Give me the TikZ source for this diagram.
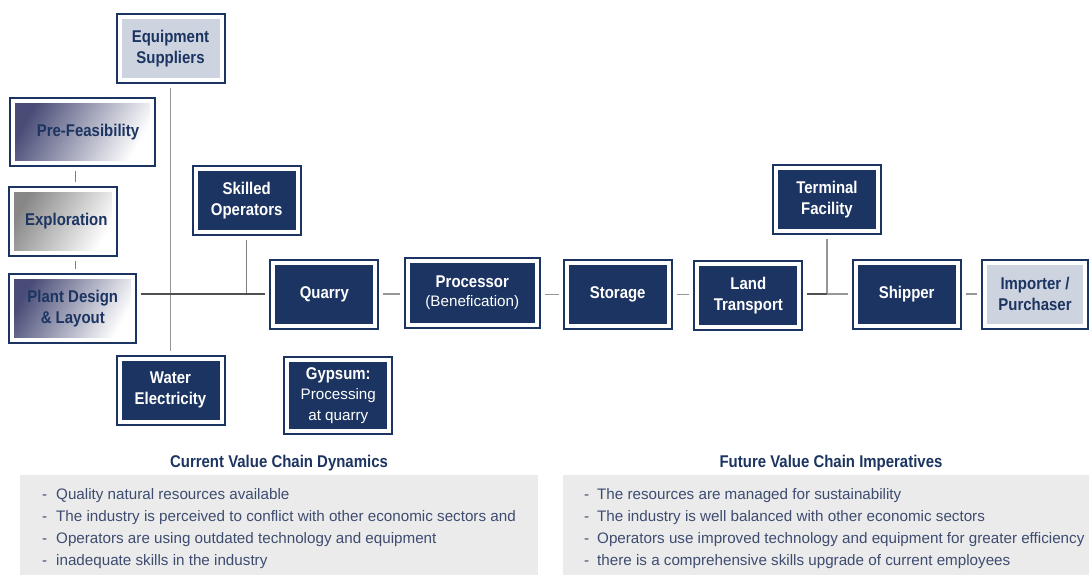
\documentclass[tikz,border=0pt]{standalone}
\usepackage{fontspec}
\setmainfont{Liberation Sans}
\newfontfamily\condfont{Liberation Sans}[FakeStretch=0.88]
\usetikzlibrary{positioning,calc}
\definecolor{navy}{RGB}{28,52,97}
\definecolor{fadenavy}{RGB}{72,76,118}
\definecolor{fadegray}{RGB}{135,135,135}
\definecolor{paleblue}{RGB}{205,211,223}
\definecolor{panelgray}{RGB}{235,235,235}
\definecolor{bodyblue}{RGB}{62,76,112}
\definecolor{linkgray}{RGB}{150,150,150}
\definecolor{trunkgray}{RGB}{80,80,80}
\newcommand\plaintext[1]{{\normalfont\fontsize{15.2}{19}\selectfont #1}}
\tikzset{
  box/.style={rectangle,inner sep=0pt,outer sep=4pt,align=center,
    minimum width=102pt,minimum height=63pt,
    font=\condfont\bfseries\fontsize{17}{21}\selectfont,
    draw=white,line width=4pt,preaction={draw=navy,line width=8pt}},
  darkbox/.style={box,fill=navy,text=white},
  palebox/.style={box,fill=paleblue,text=navy},
  fadebox/.style={box,text=navy,left color=#1,right color=white,shading angle=60},
  link/.style={draw=linkgray,line width=1.5pt,shorten <=4pt,shorten >=4pt},
  trunk/.style={draw=trunkgray,line width=2pt,shorten <=4pt,shorten >=4pt},
  heading/.style={font=\condfont\bfseries\fontsize{17}{21}\selectfont,text=navy,
    inner sep=0pt,anchor=base},
  item/.style={font=\fontsize{15.2}{22}\selectfont,text=bodyblue,inner sep=0pt,
    anchor=base west},
  panel/.style={fill=panelgray}
}

\begin{document}
\begin{tikzpicture}[x=1pt,y=-1pt,line cap=butt]
  % ---- page window (matches the screenshot size) ----
  \useasboundingbox (0,0) rectangle (1089,575);

  % ---- inputs, left column ----
  \node[palebox] (equip) at (170.5,48.5) {Equipment\\Suppliers};
  \node[fadebox=fadenavy,minimum width=139pt,minimum height=62pt] (prefeas)
    at (82,131.7) {\hspace*{12pt}Pre-Feasibility};
  \node[fadebox=fadegray] (explore) at (63.3,221.2) {\hspace*{6pt}Exploration};
  \node[fadebox=fadenavy,minimum width=121pt] (plant) at (72.8,308.3)
    {Plant Design\\\& Layout};
  \node[darkbox] (skilled) at (246.7,200.5) {Skilled\\Operators};
  \node[darkbox] (water) at (170.5,390) {Water\\Electricity};

  % ---- the chain ----
  \node[darkbox] (quarry) at (324.3,294.2) {Quarry};
  \node[darkbox,minimum width=129pt,minimum height=64pt] (processor)
    at (472.3,292.8) {Processor\\[-2pt]\plaintext{(Benefication)}};
  \node[darkbox,minimum height=71pt] (gypsum) at (338.3,395.5)
    {Gypsum:\\[-1pt]\plaintext{Processing}\\\plaintext{at quarry}};
  \node[darkbox] (storage) at (617.7,294.5) {Storage};
  \node[darkbox] (land) at (748.3,295.5) {Land\\Transport};
  \node[darkbox] (terminal) at (827,199.5) {Terminal\\Facility};
  \node[darkbox] (shipper) at (906.7,294.2) {Shipper};
  \node[palebox,minimum width=100pt] (importer) at (1035,294.2)
    {Importer /\\Purchaser};

  % ---- connectors ----
  \draw[link,draw=gray,line width=1pt] ([xshift=12pt]explore.north)
    -- ([xshift=12pt]explore.north |- prefeas.south);
  \draw[link,draw=gray,line width=1pt] ([xshift=12pt]explore.south)
    -- ([xshift=12pt]explore.south |- plant.north);
  \draw[link] (equip.south) -- (water.north);
  \coordinate (skjoin) at (skilled.south |- quarry.west);
  \draw[link,draw=gray,shorten >=0pt] (skilled.south) -- (skjoin);
  \draw[trunk] (plant.east |- quarry.west) -- (quarry.west);
  \draw[link] (quarry.east) -- (quarry.east -| processor.west);
  \draw[link] (processor.east |- storage.west) -- (storage.west);
  \draw[link] (storage.east) -- (storage.east -| land.west);
  \coordinate (tjoin) at (terminal.south |- shipper.west);
  \draw[link,shorten >=0pt] (terminal.south) -- (tjoin);
  \draw[trunk,shorten >=0pt] (land.east |- shipper.west) -- (tjoin);
  \draw[link,shorten <=0pt] (tjoin) -- (shipper.west);
  \draw[link] (shipper.east) -- (importer.west);

  % ---- current / future panels ----
  \fill[panel] (20,475) rectangle (538,575);
  \fill[panel] (563,475) rectangle (1089,575);
  \node[heading] (curhead) at (279,467) {Current Value Chain Dynamics};
  \node[heading] (futhead) at (831,467) {Future Value Chain Imperatives};

  \foreach \txt [count=\i] in {Quality natural resources available,
      The industry is perceived to conflict with other economic sectors and,
      Operators are using outdated technology and equipment,
      inadequate skills in the industry}
    \node[item] (cur\i) at (42,477.5+22*\i) {\makebox[14pt][l]{-}\txt};
  \foreach \txt [count=\i] in {The resources are managed for sustainability,
      The industry is well balanced with other economic sectors,
      Operators use improved technology and equipment for greater efficiency,
      there is a comprehensive skills upgrade of current employees}
    \node[item] (fut\i) at (584,477.5+22*\i) {\makebox[13pt][l]{-}\txt};
\end{tikzpicture}
\end{document}
